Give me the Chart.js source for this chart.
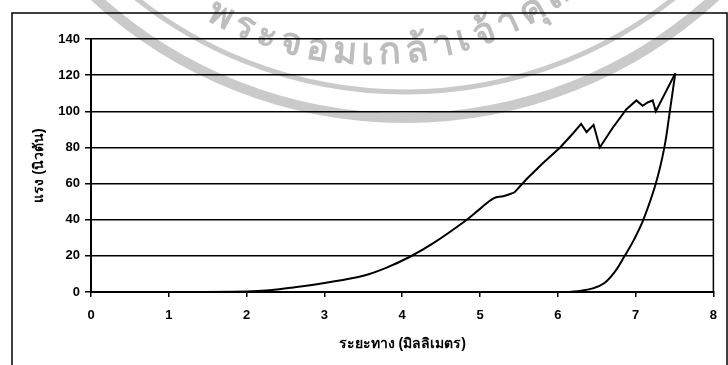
<!DOCTYPE html>
<html>
<head>
<meta charset="utf-8">
<script src="https://cdn.jsdelivr.net/npm/chart.js@4.4.1/dist/chart.umd.min.js"></script>
<style>
  html, body { margin: 0; padding: 0; background: #ffffff; }
  #wrap { width: 728px; height: 365px; position: relative; }
</style>
</head>
<body>
<div id="wrap"><canvas id="c" width="728" height="365"></canvas></div>
<script>
// Loading branch, smooth part: displacement (mm) and force (N)
const riseX = [0, 1, 2, 2.3, 2.6, 3.0, 3.5, 3.8, 4.1, 4.4, 4.8, 5.0, 5.18, 5.3, 5.44];
const riseY = [0, 0, 0.3, 1, 2.5, 5, 9, 13.5, 19.5, 27, 39, 46, 52, 53, 55];
// Loading branch, jagged part up to the peak
const peakX = [5.44, 5.6, 5.8, 6.03, 6.2, 6.3, 6.37, 6.46, 6.54, 6.7, 6.88, 7.01, 7.09, 7.16, 7.22, 7.26, 7.51];
const peakY = [55, 62.5, 71, 80, 88, 93, 88.5, 92.5, 80, 90.5, 101, 106, 103, 105, 106, 100, 121];
// Unloading branch
const unloadX = [7.51, 7.44, 7.37, 7.26, 7.1, 6.98, 6.86, 6.73, 6.6, 6.45, 6.3, 6.15];
const unloadY = [121, 100, 80, 60, 40, 29, 20, 11, 5, 2, 0.7, 0];

const xTicks = [0, 1, 2, 3, 4, 5, 6, 7, 8];
const yTicks = [0, 20, 40, 60, 80, 100, 120, 140];
const xTitle = 'ระยะทาง (มิลลิเมตร)';
const yTitle = 'แรง (นิวตัน)';
const sealText = 'พระจอมเกล้าเจ้าคุณทหารลาดกระบัง';

const toPts = (xs, ys) => xs.map((x, i) => ({ x, y: ys[i] }));

const FONT = '"Liberation Sans", Arial, sans-serif';

// split Thai text into clusters so marks stay with their base letter
function clusters(s) {
  const out = [];
  for (const ch of s) {
    const c = ch.codePointAt(0);
    const mark = c === 0x0E31 || (c >= 0x0E34 && c <= 0x0E3A) || (c >= 0x0E47 && c <= 0x0E4E);
    if (mark && out.length) out[out.length - 1] += ch; else out.push(ch);
  }
  return out;
}

// faint university seal behind the plot
const sealPlugin = {
  id: 'seal',
  beforeDraw(chart) {
    const ctx = chart.ctx;
    ctx.save();
    ctx.strokeStyle = '#cacaca';
    ctx.lineWidth = 5;
    ctx.beginPath(); ctx.arc(405, -340, 432, 0, Math.PI); ctx.stroke();
    ctx.lineWidth = 10;
    ctx.beginPath(); ctx.arc(405, -340, 458, 0, Math.PI); ctx.stroke();

    const cx = 372, cy = -268, R = 322;
    ctx.fillStyle = '#bdbdbd';
    ctx.font = 'bold 37px ' + FONT;
    ctx.textAlign = 'center';
    ctx.textBaseline = 'middle';
    const gs = clusters(sealText);
    const gap = 4.5;
    let phi = -0.49 - (ctx.measureText(gs[0]).width / 2) / R;
    for (const g of gs) {
      const w = ctx.measureText(g).width;
      const a = phi + (w / 2) / R;
      ctx.save();
      ctx.translate(cx + R * Math.sin(a), cy + R * Math.cos(a));
      ctx.rotate(-a);
      ctx.fillText(g, 0, 0);
      ctx.restore();
      phi += (w + gap) / R;
    }
    ctx.restore();
  }
};

const framePlugin = {
  id: 'frame',
  afterDraw(chart) {
    const ctx = chart.ctx;
    const a = chart.chartArea;
    ctx.save();
    ctx.strokeStyle = '#000';
    ctx.lineWidth = 1.5;
    ctx.beginPath();
    ctx.moveTo(12, 366);
    ctx.lineTo(12, 13);
    ctx.lineTo(727, 13);
    ctx.lineTo(727, 366);
    ctx.stroke();
    ctx.beginPath();
    ctx.moveTo(a.right, a.top);
    ctx.lineTo(a.right, a.bottom);
    ctx.stroke();
    ctx.restore();
  }
};

const lineStyle = { showLine: true, borderColor: '#000', borderWidth: 2, pointRadius: 0, fill: false };

new Chart(document.getElementById('c'), {
  type: 'scatter',
  data: {
    datasets: [
      Object.assign({ data: toPts(riseX, riseY), tension: 0.4 }, lineStyle),
      Object.assign({ data: toPts(peakX, peakY), tension: 0 }, lineStyle),
      Object.assign({ data: toPts(unloadX, unloadY), tension: 0.4 }, lineStyle)
    ]
  },
  options: {
    responsive: false,
    animation: false,
    devicePixelRatio: 1,
    layout: { padding: { left: 20, top: 39, right: 10, bottom: 0 } },
    plugins: { legend: { display: false }, tooltip: { enabled: false } },
    scales: {
      x: {
        type: 'linear',
        min: 0, max: 8,
        afterBuildTicks: s => { s.ticks = xTicks.map(v => ({ value: v })); },
        afterFit: s => { s.height = 73; },
        grid: { drawOnChartArea: false, drawTicks: true, tickLength: 5, color: '#000', lineWidth: 1.5 },
        border: { display: true, color: '#000', width: 2 },
        ticks: { color: '#000', padding: 11, font: { family: FONT, size: 13, weight: 'bold' } },
        title: { display: true, text: xTitle, color: '#000', padding: { top: 0, bottom: 12 }, font: { family: FONT, size: 14, weight: 'bold' } }
      },
      y: {
        type: 'linear',
        min: 0, max: 140,
        afterBuildTicks: s => { s.ticks = yTicks.map(v => ({ value: v })); },
        afterFit: s => { s.width = 71; },
        grid: { drawTicks: true, tickLength: 6, color: '#000', lineWidth: 1.5 },
        border: { display: true, color: '#000', width: 2 },
        ticks: { color: '#000', padding: 5, font: { family: FONT, size: 13, weight: 'bold' } },
        title: { display: true, text: yTitle, color: '#000', padding: { top: 11, bottom: 0 }, font: { family: FONT, size: 14, weight: 'bold' } }
      }
    }
  },
  plugins: [sealPlugin, framePlugin]
});
</script>
</body>
</html>
